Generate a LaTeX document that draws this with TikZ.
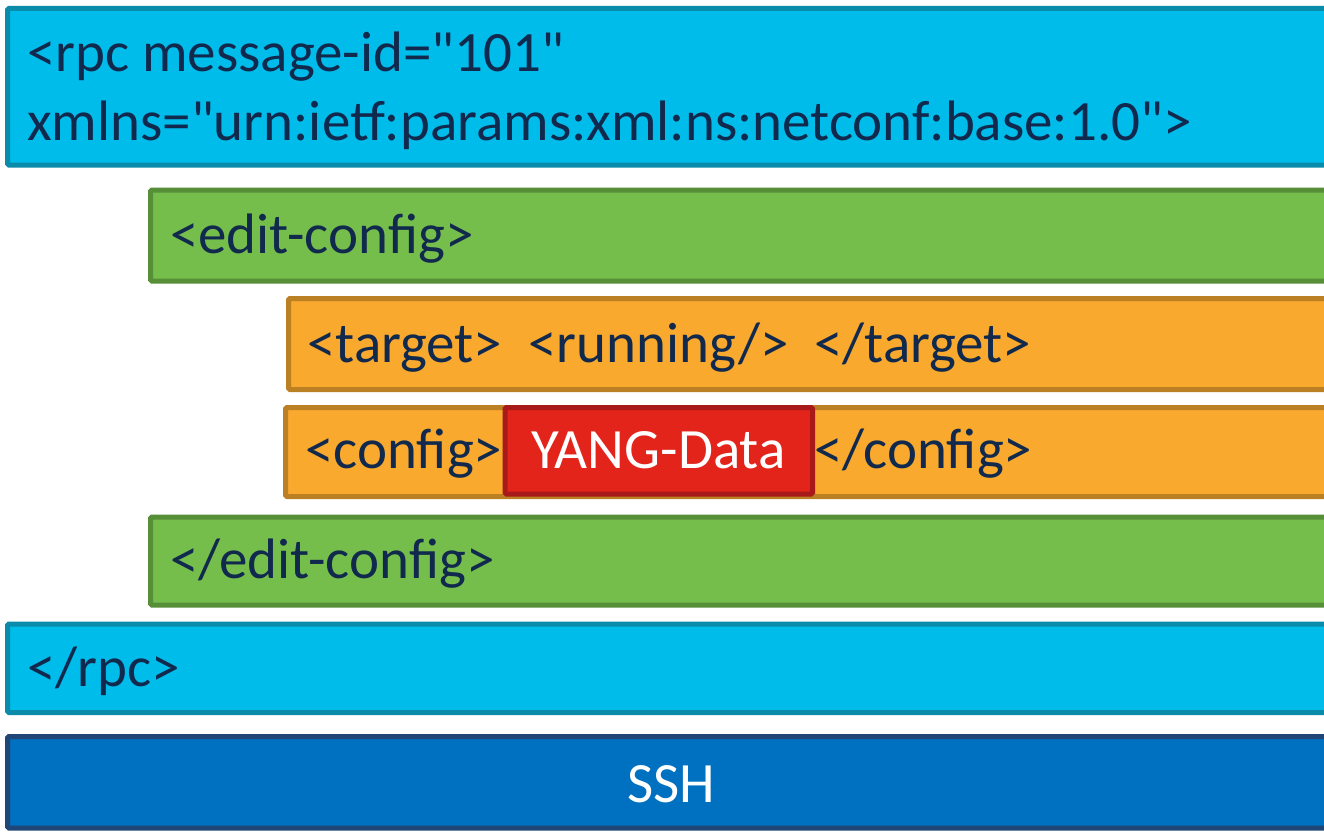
\documentclass[tikz,border=0pt]{standalone}
\usepackage{fontspec}
\setmainfont{Carlito}[Ligatures=TeXOff]
\definecolor{rpcfill}{HTML}{00BCEB}
\definecolor{rpcline}{HTML}{0B8BAA}
\definecolor{editfill}{HTML}{76BE4C}
\definecolor{editline}{HTML}{568F37}
\definecolor{cfgfill}{HTML}{F8A92E}
\definecolor{cfgline}{HTML}{BC8024}
\definecolor{yangfill}{HTML}{E3241B}
\definecolor{yangline}{HTML}{A81A1A}
\definecolor{sshfill}{HTML}{0070C0}
\definecolor{sshline}{HTML}{1F4677}
\definecolor{ink}{HTML}{10294D}
\tikzset{
  layer/.style={line width=5pt, rounded corners=1.5pt},
  rpcbox/.style={layer, fill=rpcfill, draw=rpcline},
  editbox/.style={layer, fill=editfill, draw=editline},
  cfgbox/.style={layer, fill=cfgfill, draw=cfgline},
  yangbox/.style={layer, fill=yangfill, draw=yangline},
  sshbox/.style={layer, fill=sshfill, draw=sshline},
  tag/.style={anchor=base west, inner sep=0pt, text=ink,
              font=\fontsize{57}{68}\selectfont},
  whitetag/.style={anchor=base, inner sep=0pt, text=white,
              font=\fontsize{57}{68}\selectfont}
}
\begin{document}
\begin{tikzpicture}[x=1pt, y=-1pt]
  \useasboundingbox (0,0) rectangle (1324,832);
  \clip (0,0) rectangle (1324,832);

  % outer rpc envelope
  \draw[rpcbox] (7.5,8.5) rectangle (1360,165);
  \node[tag] (rpcopen1) at (27,72) {<rpc message-id="101"};
  \node[tag] (rpcopen2) at (27,140) {xmlns="urn:ietf:params:xml:ns:netconf:base:1.0">};

  % edit-config operation
  \draw[editbox] (150.5,190) rectangle (1360,281);
  \node[tag] (editopen) at (170,253) {<edit-config>};

  % target datastore
  \draw[cfgbox] (288.5,298.5) rectangle (1360,389.5);
  \node[tag] (target) at (307,362) {<target>~~<running/>~~</target>};

  % config payload
  \draw[cfgbox] (285.5,407.5) rectangle (1360,496.5);
  \node[tag] (cfgopen) at (305,468) {<config>};
  \draw[yangbox] (505,407.5) rectangle (812.5,494);
  \node[whitetag] (yang) at (658.5,468) {YANG-Data};
  \node[tag] (cfgclose) at (814,468) {</config>};

  % closing edit-config
  \draw[editbox] (150.5,517) rectangle (1360,605);
  \node[tag] (editclose) at (170,578) {</edit-config>};

  % closing rpc
  \draw[rpcbox] (7.5,624) rectangle (1360,712.5);
  \node[tag] (rpcclose) at (27,686) {</rpc>};

  % transport
  \draw[sshbox] (7.5,736.5) rectangle (1360,828);
  \node[whitetag] (ssh) at (671,802) {SSH};
\end{tikzpicture}
\end{document}
